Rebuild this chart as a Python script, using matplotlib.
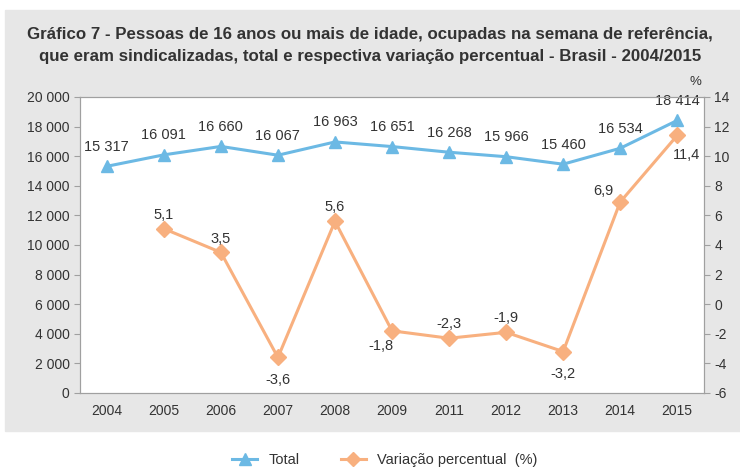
import matplotlib.pyplot as plt
from matplotlib.ticker import FuncFormatter
from matplotlib.patches import Rectangle
from matplotlib.lines import Line2D

years = ["2004", "2005", "2006", "2007", "2008", "2009", "2011", "2012", "2013", "2014", "2015"]
total = [15317, 16091, 16660, 16067, 16963, 16651, 16268, 15966, 15460, 16534, 18414]
variacao = [None, 5.1, 3.5, -3.6, 5.6, -1.8, -2.3, -1.9, -3.2, 6.9, 11.4]
# label offsets (points) for the percent labels
var_offsets = [None, (0, 10), (0, 10), (0, -16), (0, 10), (-8, -11), (0, 10), (0, 10), (0, -16), (-12, 8), (7, -14)]

blue = "#6cb9e4"
orange = "#f8b07f"
gray_bg = "#e7e7e7"
text_c = "#333333"
plt.rcParams['font.family'] = ["Liberation Sans", "DejaVu Sans"]
plt.rcParams['axes.unicode_minus'] = False

fig = plt.figure(figsize=(7.4, 4.67), dpi=100)
fig.patches.append(Rectangle((5 / 740, 1 - 431 / 467), 735 / 740, 421 / 467,
                             transform=fig.transFigure, color=gray_bg, zorder=-10))

fig.text(0.5, 1 - 34 / 467, "Gráfico 7 - Pessoas de 16 anos ou mais de idade, ocupadas na semana de referência,",
         ha="center", va="center", fontsize=12.2, fontweight="bold", color=text_c)
fig.text(0.5, 1 - 57 / 467, "que eram sindicalizadas, total e respectiva variação percentual - Brasil - 2004/2015",
         ha="center", va="center", fontsize=12.2, fontweight="bold", color=text_c)

ax = fig.add_axes([80 / 740, 1 - 393 / 467, 624 / 740, 296 / 467])
ax.set_facecolor("white")
x = list(range(len(years)))
ax.plot(x, total, color=blue, marker="^", markersize=9, linewidth=2.2, zorder=3)
ax.set_ylim(0, 20000)
ax.set_xlim(-0.47, len(years) - 1 + 0.47)
ax.set_yticks(range(0, 20001, 2000))
ax.yaxis.set_major_formatter(FuncFormatter(lambda v, _: "{:,}".format(int(v)).replace(",", " ")))
ax.set_xticks(x)
ax.set_xticklabels(years)
for xi, v in zip(x, total):
    ax.annotate("{:,}".format(v).replace(",", " "), (xi, v), textcoords="offset points",
                xytext=(0, 9), ha="center", va="bottom", fontsize=10.5, color=text_c)

ax2 = ax.twinx()
xv = [xi for xi, v in zip(x, variacao) if v is not None]
vv = [v for v in variacao if v is not None]
ax2.plot(xv, vv, color=orange, marker="D", markersize=8, linewidth=2.2, zorder=3)
ax2.set_ylim(-6, 14)
ax2.set_yticks(range(-6, 15, 2))
for xi, v, off in zip(x, variacao, var_offsets):
    if v is None:
        continue
    ax2.annotate(("%.1f" % v).replace(".", ","), (xi, v), textcoords="offset points",
                 xytext=off, ha="center", va="center", fontsize=10.5, color=text_c)
ax2.text(0.995, 1.03, "%", transform=ax2.transAxes, ha="right", va="bottom", fontsize=9.5, color=text_c)

for a in (ax, ax2):
    for s in a.spines.values():
        s.set_color("#a0a0a0")
    a.tick_params(colors="#a0a0a0", labelcolor=text_c, labelsize=10, length=4)
ax.tick_params(axis="x", length=0, pad=8)

handles = [Line2D([], [], color=blue, marker="^", markersize=9, linewidth=2.2),
           Line2D([], [], color=orange, marker="D", markersize=7, linewidth=2.2)]
fig.legend(handles, ["Total", "Variação percentual  (%)"], loc="center", ncol=2,
           bbox_to_anchor=(385 / 740, 1 - 460 / 467), frameon=False, fontsize=10.5,
           handlelength=1.7, columnspacing=2.8, labelcolor=text_c)

fig.savefig("out.png", dpi=100)
